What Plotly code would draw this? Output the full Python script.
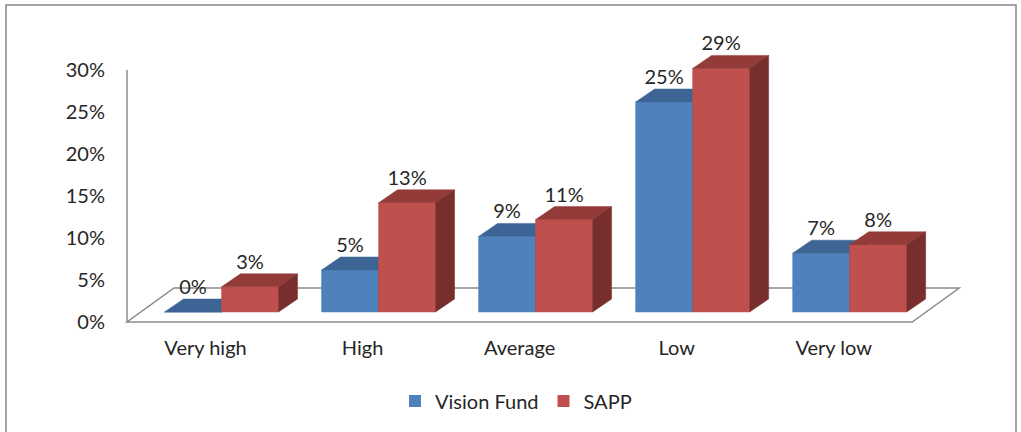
import plotly.graph_objects as go

# ---------------- data ----------------
categories = ["Very high", "High", "Average", "Low", "Very low"]
vision_fund = [0, 5, 9, 25, 7]
sapp = [3, 13, 11, 29, 8]
series_names = ["Vision Fund", "SAPP"]
y_tick_vals = [0, 5, 10, 15, 20, 25, 30]
y_tick_text = ["0%", "5%", "10%", "15%", "20%", "25%", "30%"]

# ---------------- style / layout constants ----------------
W, H = 1021, 432
ML, MR, MT, MB = 127, 46, 40, 110
PLOT_W = W - ML - MR
PLOT_H = H - MT - MB
X_MIN, X_MAX = -0.5, 4.9
Y_PX = 8.4                       # pixels per percentage point
Y_MAX = PLOT_H / Y_PX
X_PX = PLOT_W / (X_MAX - X_MIN)  # pixels per category

BAR_W_PX = 57
DEPTH_DX_PX, DEPTH_DY_PX = 19, 13      # bar depth projection
FRONT_DX_PX, FRONT_DY_PX = 16, 10      # bar front plane offset from floor front
FLOOR_DX_PX, FLOOR_DY_PX = 47, 34      # floor depth projection
LABEL_GAP_PX = 10

FONT = "Lato"
FONT_SIZE = 20
TEXT_COLOR = "#262626"
AXIS_COLOR = "#8a8a8a"

face_colors = {
    "Vision Fund": {"front": "#4F81BD", "top": "#3C6494", "side": "#2F4F78"},
    "SAPP": {"front": "#C0504D", "top": "#933B39", "side": "#782E2C"},
}

bw = BAR_W_PX / X_PX
ddx, ddy = DEPTH_DX_PX / X_PX, DEPTH_DY_PX / Y_PX
fdx, fdy = FRONT_DX_PX / X_PX, FRONT_DY_PX / Y_PX
gap = LABEL_GAP_PX / Y_PX


def xp(x):
    return (x - X_MIN) / (X_MAX - X_MIN)


def yp(y):
    return y / Y_MAX


def px_x(px):
    return (px - ML) / PLOT_W


def px_y(py):
    return (H - MB - py) / PLOT_H


fig = go.Figure()

series_values = [vision_fund, sapp]
n_series = len(series_values)

for s, (name, vals) in enumerate(zip(series_names, series_values)):
    fronts_x, fronts_y, tops_x, tops_y, sides_x, sides_y = [], [], [], [], [], []
    for i, v in enumerate(vals):
        x0 = i + fdx + (s - n_series / 2) * bw
        x1 = x0 + bw
        b = fdy
        t = fdy + v
        fronts_x += [x0, x1, x1, x0, x0, None]
        fronts_y += [b, b, t, t, b, None]
        tops_x += [x0, x1, x1 + ddx, x0 + ddx, x0, None]
        tops_y += [t, t, t + ddy, t + ddy, t, None]
        sides_x += [x1, x1 + ddx, x1 + ddx, x1, x1, None]
        sides_y += [b, b + ddy, t + ddy, t, b, None]
    for face, fx, fy in (("front", fronts_x, fronts_y),
                         ("top", tops_x, tops_y),
                         ("side", sides_x, sides_y)):
        c = face_colors[name][face]
        fig.add_trace(go.Scatter(
            x=fx, y=fy, mode="lines", fill="toself", fillcolor=c,
            line=dict(color=c, width=0.5), showlegend=False,
            hoverinfo="skip"))

# value labels
for s, (name, vals) in enumerate(zip(series_names, series_values)):
    lx = [i + fdx + (s - n_series / 2) * bw + bw / 2 for i in range(len(vals))]
    ly = [fdy + v + ddy + gap for v in vals]
    fig.add_trace(go.Scatter(
        x=lx, y=ly, mode="text", text=[f"{v}%" for v in vals],
        textposition="middle center",
        textfont=dict(family=FONT, size=FONT_SIZE, color=TEXT_COLOR),
        showlegend=False, hoverinfo="skip", cliponaxis=False))

# legend entries
for name in series_names:
    fig.add_trace(go.Bar(x=[None], y=[None], name=name,
                         marker=dict(color=face_colors[name]["front"], line=dict(width=0))))

n = len(categories)
fl_x0, fl_x1 = -0.5, n - 0.5
fdxf, fdyf = FLOOR_DX_PX / X_PX, FLOOR_DY_PX / Y_PX
floor_pts = [(fl_x0, 0), (fl_x1, 0), (fl_x1 + fdxf, fdyf), (fl_x0 + fdxf, fdyf)]
floor_path = "M " + " L ".join(f"{xp(x):.5f},{yp(y):.5f}" for x, y in floor_pts) + " Z"

shapes = [
    dict(type="path", path=floor_path, xref="paper", yref="paper",
         line=dict(color=AXIS_COLOR, width=1.5), fillcolor="rgba(0,0,0,0)", layer="below"),
    dict(type="line", xref="paper", yref="paper",
         x0=xp(X_MIN), x1=xp(X_MIN), y0=yp(0), y1=yp(max(y_tick_vals)),
         line=dict(color=AXIS_COLOR, width=1.5)),
    dict(type="rect", xref="paper", yref="paper",
         x0=px_x(6), x1=px_x(1016), y0=px_y(445), y1=px_y(5),
         line=dict(color="#868686", width=1.5), fillcolor="rgba(0,0,0,0)"),
]

fig.update_layout(
    width=W, height=H,
    margin=dict(l=ML, r=MR, t=MT, b=MB, autoexpand=False),
    paper_bgcolor="white", plot_bgcolor="white",
    font=dict(family=FONT, size=FONT_SIZE, color=TEXT_COLOR),
    shapes=shapes,
    showlegend=True,
    legend=dict(orientation="h", x=px_x(395), xanchor="left",
                y=px_y(401), yanchor="middle", bgcolor="rgba(0,0,0,0)",
                font=dict(family=FONT, size=FONT_SIZE, color=TEXT_COLOR)),
    xaxis=dict(range=[X_MIN, X_MAX], tickvals=list(range(n)), ticktext=categories,
               showgrid=False, zeroline=False, showline=False, ticks="",
               ticklabelstandoff=12, fixedrange=True),
    yaxis=dict(range=[0, Y_MAX], tickvals=y_tick_vals, ticktext=y_tick_text,
               showgrid=False, zeroline=False, showline=False, ticks="",
               ticklabelstandoff=21, fixedrange=True),
)

fig.write_html("out.html", config={"displayModeBar": False},
               post_script="document.body.style.margin='0';")
